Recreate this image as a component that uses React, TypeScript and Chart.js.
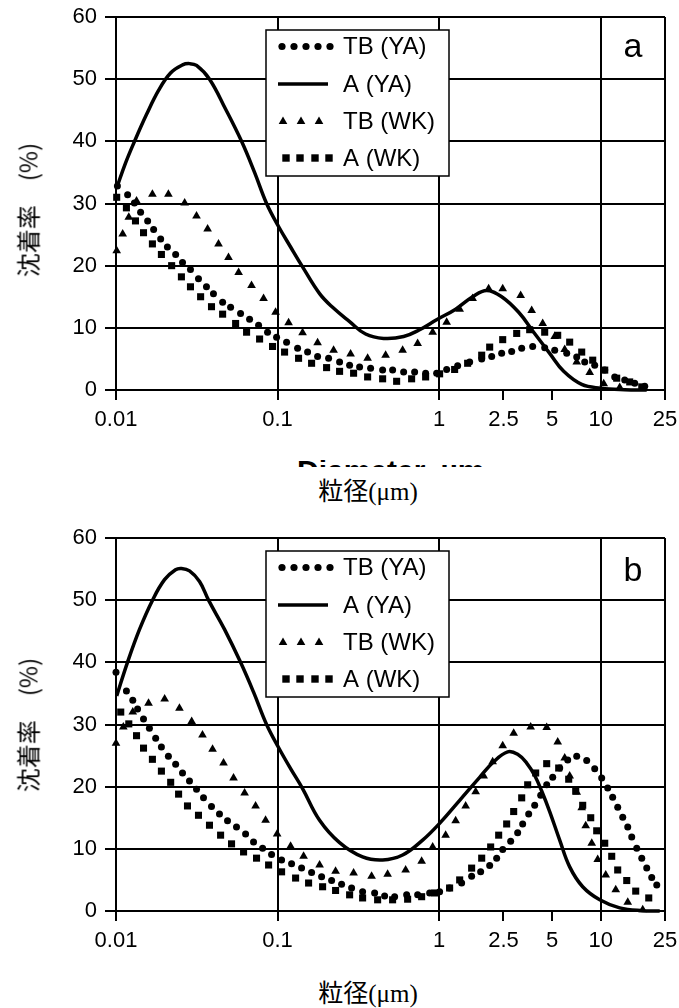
import React, { useEffect, useRef } from "react";
import { Chart, registerables } from "chart.js";

Chart.register(...registerables);

// ---------- shared axis / label data ----------
const xTicks = [0.01, 0.1, 1, 2.5, 5, 10, 25];
const xTickLabels = ["0.01", "0.1", "1", "2.5", "5", "10", "25"];
const xGridValues = [0.01, 0.1, 1, 10, 25];
const yTicks = [0, 10, 20, 30, 40, 50, 60];
const seriesLabels = ["TB (YA)", "A (YA)", "TB (WK)", "A (WK)"];
const panelLetters = ["a", "b"];
const yAxisTitle = "沈着率　(%)";
const xAxisTitle = "粒径(μm)";
const clippedEnglishTitle = "Diameter, µm";

// ---------- panel a ----------
const tbYA_a_x = [0.0102, 0.0118, 0.013, 0.0142, 0.0157, 0.0171, 0.0189, 0.0208, 0.0234, 0.0258, 0.0289, 0.0324, 0.0363, 0.0401, 0.0457, 0.0512, 0.059, 0.0671, 0.0763, 0.0867, 0.0986, 0.1137, 0.133, 0.1534, 0.1769, 0.2069, 0.242, 0.2792, 0.3219, 0.3766, 0.4469, 0.5154, 0.6029, 0.7052, 0.8249, 0.965, 1.113, 1.302, 1.545, 1.834, 2.115, 2.438, 2.812, 3.243, 3.793, 4.501, 5.191, 6.159, 7.104, 7.961, 9.18, 10.59, 12.21, 14.08, 16.24, 18.73];
const tbYA_a_y = [32.8, 31.4, 30.1, 28.6, 27.2, 25.8, 24.3, 23.0, 21.8, 20.5, 19.4, 17.9, 16.6, 15.5, 14.1, 13.3, 12.3, 11.4, 10.4, 9.3, 8.5, 7.7, 6.7, 6.1, 5.4, 5.1, 4.5, 4.0, 3.7, 3.5, 3.2, 3.2, 2.9, 2.9, 2.7, 2.7, 3.3, 3.9, 4.5, 5.0, 5.4, 5.9, 6.2, 6.7, 7.0, 6.8, 6.4, 5.9, 5.3, 4.5, 4.0, 3.2, 2.1, 1.6, 1.1, 0.6];

const aYA_a_x = [0.0101, 0.01145, 0.01302, 0.01544, 0.01834, 0.02176, 0.02581, 0.02852, 0.03151, 0.03793, 0.04764, 0.05986, 0.07204, 0.0855, 0.1014, 0.1204, 0.1428, 0.182, 0.2191, 0.2792, 0.3507, 0.4533, 0.6029, 0.7573, 0.965, 1.265, 1.612, 1.969, 2.438, 3.107, 3.847, 4.833, 5.9, 7.628, 10, 14.08, 19.27];
const aYA_a_y = [32.5, 36.5, 40.0, 44.3, 48.2, 51.0, 52.3, 52.5, 52.2, 50.0, 45.2, 40.0, 35.0, 30.0, 26.3, 23.0, 19.8, 15.5, 13.3, 11.0, 9.0, 8.3, 8.6, 9.7, 11.3, 13.0, 15.0, 16.0, 15.0, 12.5, 9.3, 5.9, 3.0, 0.9, 0.3, 0.05, 0];

const tbWK_a_x = [0.0101, 0.011, 0.012, 0.0134, 0.0168, 0.0211, 0.0266, 0.0315, 0.0369, 0.0431, 0.0497, 0.0574, 0.069, 0.0819, 0.0972, 0.117, 0.1428, 0.1769, 0.2222, 0.2831, 0.3609, 0.4664, 0.5943, 0.7362, 0.9117, 1.113, 1.34, 1.612, 2.025, 2.474, 3.196, 3.739, 4.374, 5.191, 5.986, 7.104, 8.55, 10.44, 13.11];
const tbWK_a_y = [22.4, 25.1, 27.8, 30.4, 31.5, 31.5, 30.1, 28.0, 25.9, 23.5, 21.3, 18.9, 16.8, 14.7, 12.5, 10.8, 9.2, 7.6, 6.4, 5.8, 5.1, 5.6, 6.4, 7.5, 9.3, 10.9, 13.0, 14.7, 16.3, 16.3, 15.2, 12.8, 10.7, 8.6, 6.5, 4.5, 2.8, 1.0, 0.4];

const aWK_a_x = [0.0101, 0.0116, 0.0132, 0.0148, 0.0168, 0.0191, 0.0221, 0.0254, 0.0289, 0.0334, 0.039, 0.0457, 0.055, 0.0643, 0.0774, 0.0931, 0.1105, 0.1349, 0.1624, 0.2011, 0.242, 0.2955, 0.3609, 0.4469, 0.5457, 0.6756, 0.8249, 1.007, 1.247, 1.501, 1.834, 2.055, 2.474, 3.02, 3.634, 4.501, 5.418, 6.427, 7.628, 8.925, 10.59, 12.56, 15.12, 17.95];
const aWK_a_y = [31.0, 29.3, 27.2, 25.3, 23.5, 21.8, 20.0, 18.2, 16.6, 15.0, 13.4, 12.2, 10.7, 9.3, 8.2, 7.0, 6.1, 5.1, 4.3, 3.6, 3.0, 2.7, 2.1, 1.8, 1.4, 1.8, 2.1, 2.6, 3.3, 4.3, 5.6, 6.9, 8.1, 9.1, 9.7, 9.3, 8.8, 7.7, 6.1, 4.8, 3.2, 1.9, 1.3, 0.5];

// ---------- panel b ----------
const tbYA_b_x = [0.01, 0.0116, 0.0127, 0.0136, 0.0148, 0.0161, 0.0176, 0.0191, 0.0211, 0.0234, 0.0258, 0.0285, 0.0315, 0.0348, 0.039, 0.0437, 0.049, 0.0557, 0.0634, 0.071, 0.0808, 0.0918, 0.1059, 0.1221, 0.1408, 0.1624, 0.1873, 0.216, 0.249, 0.2872, 0.336, 0.3988, 0.4598, 0.5304, 0.6293, 0.7362, 0.8735, 1.007, 1.161, 1.378, 1.589, 1.807, 2.055, 2.27, 2.474, 2.772, 3.062, 3.289, 3.583, 3.903, 4.252, 4.631, 5.045, 5.574, 6.248, 7.104, 8.19, 9.18, 10.14, 11.05, 11.86, 12.74, 13.69, 14.7, 15.56, 16.71, 17.95, 19.27, 20.69, 22.23];
const tbYA_b_y = [38.4, 35.4, 33.9, 32.5, 30.9, 29.4, 27.8, 26.4, 24.9, 23.6, 22.2, 20.9, 19.6, 18.2, 16.8, 15.6, 14.5, 13.5, 12.4, 11.1, 10.1, 9.1, 8.2, 7.6, 6.9, 6.2, 5.5, 4.9, 4.3, 3.7, 3.1, 2.9, 2.4, 2.3, 2.6, 2.6, 2.9, 3.1, 3.7, 4.5, 5.6, 6.3, 7.3, 8.5, 9.9, 11.2, 12.6, 14.0, 15.6, 17.0, 18.6, 20.3, 21.5, 23.0, 24.3, 24.9, 24.2, 22.9, 21.4, 19.8, 18.3, 16.7, 15.1, 13.5, 11.9, 10.1, 8.5, 6.9, 5.4, 4.2];

const aYA_b_x = [0.0101, 0.01178, 0.01398, 0.01683, 0.01997, 0.02335, 0.02544, 0.02852, 0.03289, 0.03739, 0.04697, 0.05902, 0.07102, 0.0855, 0.1014, 0.1204, 0.1428, 0.182, 0.242, 0.336, 0.4469, 0.5943, 0.7905, 1.007, 1.34, 1.781, 2.175, 2.656, 3.062, 3.482, 3.903, 4.312, 4.833, 5.574, 6.427, 7.737, 9.86, 13.11, 18.2, 23.19];
const aYA_b_y = [34.6, 40.0, 45.3, 50.0, 53.3, 54.9, 55.1, 54.7, 53.0, 50.0, 45.3, 40.0, 35.2, 30.0, 26.3, 22.9, 19.7, 14.6, 11.0, 8.7, 8.2, 9.0, 11.4, 14.1, 17.8, 21.5, 24.0, 25.6, 25.2, 23.8, 21.8, 19.3, 16.0, 11.4, 7.1, 3.9, 1.8, 0.5, 0.05, 0];

const tbWK_b_x = [0.01, 0.0111, 0.0127, 0.0159, 0.02, 0.0247, 0.0294, 0.0343, 0.0396, 0.0463, 0.0534, 0.0625, 0.0731, 0.0843, 0.0994, 0.1204, 0.1449, 0.182, 0.2286, 0.2955, 0.3819, 0.4799, 0.6203, 0.7793, 0.9117, 1.097, 1.265, 1.459, 1.683, 1.886, 2.144, 2.474, 2.893, 3.686, 4.631, 5.418, 5.986, 6.427, 7.104, 7.628, 8.075, 8.8, 9.58, 10.74, 12.39, 14.7, 18.2];
const tbWK_b_y = [27.0, 29.6, 32.0, 33.4, 34.1, 32.6, 30.5, 28.3, 26.0, 23.8, 21.4, 19.0, 16.9, 14.6, 12.4, 10.4, 8.8, 7.4, 6.4, 6.1, 5.6, 5.9, 6.6, 8.0, 10.3, 12.2, 14.5, 16.9, 19.2, 21.7, 24.0, 26.6, 28.6, 29.6, 29.5, 27.2, 24.6, 21.7, 19.1, 16.6, 13.7, 10.9, 8.3, 5.8, 3.4, 1.4, 0.2];

const aWK_b_x = [0.0107, 0.012, 0.0134, 0.0148, 0.0168, 0.0191, 0.0218, 0.0244, 0.0277, 0.0324, 0.0379, 0.0444, 0.0519, 0.0616, 0.0741, 0.088, 0.1059, 0.1293, 0.1556, 0.19, 0.2286, 0.2792, 0.336, 0.4162, 0.5152, 0.6383, 0.7793, 0.9378, 1.161, 1.34, 1.589, 1.834, 2.084, 2.336, 2.618, 2.893, 3.243, 3.532, 3.959, 4.631, 5.495, 6.338, 7.003, 7.737, 8.675, 9.445, 10.59, 11.7, 12.74, 14.49, 16.47, 19.83];
const aWK_b_y = [32.0, 30.1, 28.2, 26.2, 24.4, 22.5, 20.7, 18.8, 16.9, 15.4, 13.8, 12.2, 10.8, 9.5, 8.5, 7.4, 6.3, 5.3, 4.5, 3.9, 3.3, 2.6, 2.1, 1.8, 1.8, 1.9, 2.3, 2.9, 3.7, 5.0, 6.9, 8.5, 10.3, 12.2, 14.0, 16.0, 18.2, 20.3, 22.2, 23.7, 23.0, 21.2, 19.3, 17.0, 15.0, 12.9, 10.9, 8.8, 6.6, 4.9, 3.2, 2.1];

// ---------- styling ----------
const FONT = '"Liberation Sans", Arial, sans-serif';
const INK = "#000";

const pairs = (xs: number[], ys: number[]) => xs.map((x, i) => ({ x, y: ys[i] }));

function buildDatasets(
  tbYAx: number[], tbYAy: number[],
  aYAx: number[], aYAy: number[],
  tbWKx: number[], tbWKy: number[],
  aWKx: number[], aWKy: number[]
) {
  const marker = {
    showLine: false,
    pointBackgroundColor: INK,
    pointBorderColor: INK,
    pointBorderWidth: 0,
    clip: false as any,
  };
  return [
    { ...marker, label: seriesLabels[0], data: pairs(tbYAx, tbYAy), pointStyle: "circle", pointRadius: 3.5 },
    {
      label: seriesLabels[1],
      data: pairs(aYAx, aYAy),
      showLine: true,
      pointRadius: 0,
      borderColor: INK,
      borderWidth: 3.5,
      tension: 0.4,
      clip: false as any,
    },
    { ...marker, label: seriesLabels[2], data: pairs(tbWKx, tbWKy), pointStyle: "triangle", pointRadius: 5 },
    { ...marker, label: seriesLabels[3], data: pairs(aWKx, aWKy), pointStyle: "rect", pointRadius: 5 },
  ];
}

const boxLegendPlugin = {
  id: "boxLegend",
  beforeDatasetsDraw(chart: any) {
    const { ctx, chartArea } = chart;
    const top = chartArea.top;
    const L = 266, T = top + 13, W = 183, H = 146;
    const rows = [29.5, 67, 104.5, 141].map((r) => top + r);
    ctx.save();
    ctx.fillStyle = "#fff";
    ctx.fillRect(L, T, W, H);
    ctx.strokeStyle = INK;
    ctx.lineWidth = 1.5;
    ctx.strokeRect(L, T, W, H);
    ctx.fillStyle = INK;
    // dots
    [282, 294, 306, 318, 330].forEach((x) => {
      ctx.beginPath();
      ctx.arc(x, rows[0], 3.6, 0, Math.PI * 2);
      ctx.fill();
    });
    // solid line
    ctx.lineWidth = 3.5;
    ctx.beginPath();
    ctx.moveTo(278, rows[1]);
    ctx.lineTo(328, rows[1]);
    ctx.stroke();
    // triangles
    [283, 301, 319].forEach((x) => {
      const r = 5;
      ctx.beginPath();
      ctx.moveTo(x, rows[2] - r);
      ctx.lineTo(x + r * 0.866, rows[2] + r * 0.5);
      ctx.lineTo(x - r * 0.866, rows[2] + r * 0.5);
      ctx.closePath();
      ctx.fill();
    });
    // squares
    [286, 300, 315, 329].forEach((x) => {
      ctx.fillRect(x - 3.7, rows[3] - 3.7, 7.4, 7.4);
    });
    ctx.font = `24px ${FONT}`;
    ctx.textAlign = "left";
    ctx.textBaseline = "middle";
    chart.data.datasets.forEach((ds: any, i: number) => {
      ctx.fillText(ds.label, 343, rows[i] + 1);
    });
    ctx.restore();
  },
  afterDraw(chart: any, _args: any, opts: any) {
    const { ctx, chartArea } = chart;
    ctx.save();
    ctx.fillStyle = INK;
    ctx.font = `34px ${FONT}`;
    ctx.textAlign = "center";
    ctx.textBaseline = "alphabetic";
    ctx.fillText(opts.letter, 633, chartArea.top + opts.letterBaseline);
    ctx.restore();
  },
};

function makeConfig(datasets: any[], letter: string, letterBaseline: number): any {
  return {
    type: "scatter",
    data: { datasets },
    options: {
      animation: false,
      responsive: false,
      devicePixelRatio: 1,
      events: [],
      layout: { padding: { top: 17, right: 14, left: 0, bottom: 0 } },
      plugins: {
        legend: { display: false },
        tooltip: { enabled: false },
        boxLegend: { letter, letterBaseline },
      },
      scales: {
        x: {
          type: "logarithmic",
          min: 0.01,
          max: 25,
          afterBuildTicks: (s: any) => {
            s.ticks = xTicks.map((v) => ({ value: v }));
          },
          afterFit: (s: any) => {
            s.height = 50;
            s.paddingLeft = 0;
            s.paddingRight = 0;
          },
          ticks: {
            autoSkip: false,
            maxRotation: 0,
            minRotation: 0,
            padding: 7,
            color: INK,
            font: { family: FONT, size: 22 },
            callback: (_v: any, i: number) => xTickLabels[i],
          },
          grid: {
            color: (c: any) => (c.tick && xGridValues.includes(c.tick.value) ? INK : "rgba(0,0,0,0)"),
            tickColor: INK,
            lineWidth: 2,
            tickLength: 10,
            drawTicks: true,
          },
          border: { display: true, color: INK, width: 2 },
        },
        y: {
          min: 0,
          max: 60,
          afterBuildTicks: (s: any) => {
            s.ticks = yTicks.map((v) => ({ value: v }));
          },
          afterFit: (s: any) => {
            s.width = 116;
            s.paddingTop = 0;
            s.paddingBottom = 0;
          },
          ticks: { padding: 8, color: INK, font: { family: FONT, size: 22 } },
          grid: { color: INK, tickColor: INK, lineWidth: 2, tickLength: 11 },
          border: { display: true, color: INK, width: 2 },
        },
      },
    },
    plugins: [boxLegendPlugin],
  };
}

const yTitleStyle = (top: number): React.CSSProperties => ({
  position: "absolute",
  left: 27,
  top,
  transform: "translate(-50%, -50%) rotate(-90deg)",
  whiteSpace: "nowrap",
  font: '24px "Noto Sans CJK JP", "Noto Sans CJK SC", sans-serif',
  color: "#000",
});

const xTitleStyle = (top: number): React.CSSProperties => ({
  position: "absolute",
  left: 368,
  top,
  transform: "translate(-50%, -50%)",
  whiteSpace: "nowrap",
  font: '25px "Liberation Serif", "Noto Sans CJK JP", serif',
  color: "#000",
});

export default function App() {
  const refA = useRef<HTMLCanvasElement | null>(null);
  const refB = useRef<HTMLCanvasElement | null>(null);

  useEffect(() => {
    const chartA = new Chart(
      refA.current as HTMLCanvasElement,
      makeConfig(
        buildDatasets(tbYA_a_x, tbYA_a_y, aYA_a_x, aYA_a_y, tbWK_a_x, tbWK_a_y, aWK_a_x, aWK_a_y),
        panelLetters[0],
        40
      )
    );
    const chartB = new Chart(
      refB.current as HTMLCanvasElement,
      makeConfig(
        buildDatasets(tbYA_b_x, tbYA_b_y, aYA_b_x, aYA_b_y, tbWK_b_x, tbWK_b_y, aWK_b_x, aWK_b_y),
        panelLetters[1],
        43
      )
    );
    return () => {
      chartA.destroy();
      chartB.destroy();
    };
  }, []);

  return (
    <div
      style={{
        position: "absolute",
        left: 0,
        top: 0,
        width: 679,
        height: 1008,
        background: "#fff",
        overflow: "hidden",
      }}
    >
      <canvas ref={refA} width={679} height={440} style={{ position: "absolute", left: 0, top: 0 }} />
      <canvas ref={refB} width={679} height={440} style={{ position: "absolute", left: 0, top: 521 }} />
      <div style={yTitleStyle(210)}>{yAxisTitle}</div>
      <div style={yTitleStyle(725)}>{yAxisTitle}</div>
      <div
        style={{
          position: "absolute",
          left: 297,
          top: 460,
          width: 200,
          height: 7,
          overflow: "hidden",
        }}
      >
        <div
          style={{
            marginTop: -4,
            font: `bold 30px ${FONT}`,
            lineHeight: "30px",
            whiteSpace: "nowrap",
            color: "#000",
          }}
        >
          {clippedEnglishTitle}
        </div>
      </div>
      <div style={xTitleStyle(489)}>{xAxisTitle}</div>
      <div style={xTitleStyle(991)}>{xAxisTitle}</div>
    </div>
  );
}
